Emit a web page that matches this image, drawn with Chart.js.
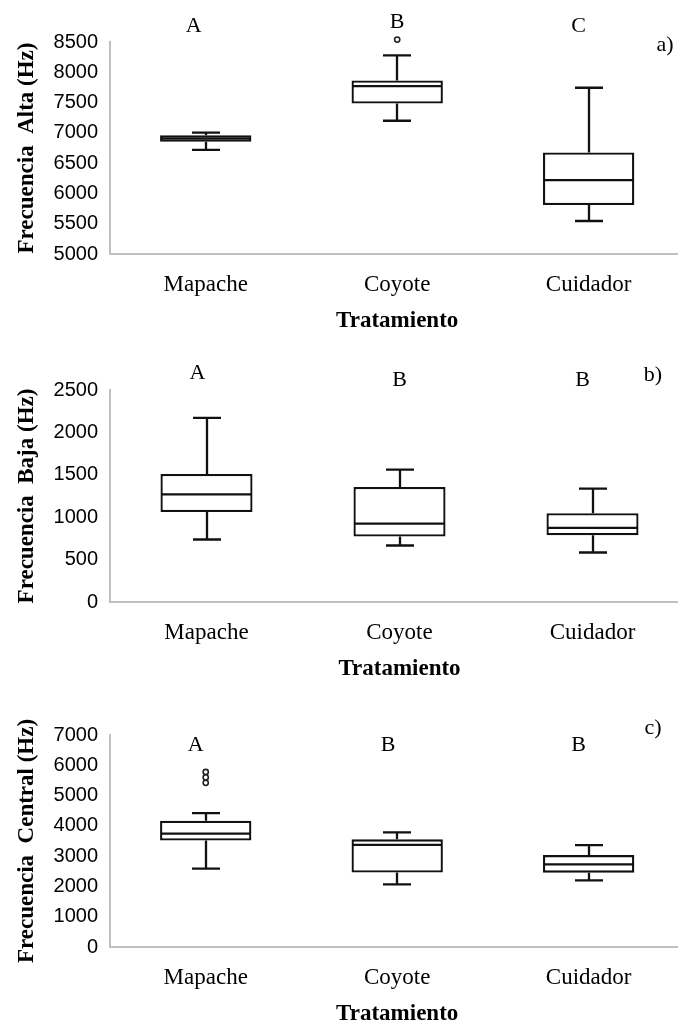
<!DOCTYPE html>
<html>
<head>
<meta charset="utf-8">
<script src="https://cdn.jsdelivr.net/npm/chart.js@4.4.0/dist/chart.umd.min.js"></script>
<style>
  html, body { margin: 0; padding: 0; background: #fff; }
  #wrap { position: relative; width: 678px; height: 1027px; overflow: hidden; background: #fff; }
  #wrap canvas { position: absolute; left: 0; }
</style>
</head>
<body>
<div id="wrap">
  <canvas id="chart-alta" width="690" height="342" style="top:0px"></canvas>
  <canvas id="chart-baja" width="690" height="342" style="top:348px"></canvas>
  <canvas id="chart-central" width="690" height="342" style="top:693px"></canvas>
</div>
<script>
// Categories shared by the three panels
const categories = ['Mapache', 'Coyote', 'Cuidador'];

// a) Frecuencia alta (Hz)
const altaMin = [6720, 7200, 5545];
const altaQ1 = [6855, 7485, 5810];
const altaMedian = [6910, 7770, 6220];
const altaQ3 = [6960, 7865, 6675];
const altaMax = [7005, 8280, 7745];
const altaOutlierCats = ['Coyote'];
const altaOutlierValues = [8540];
const altaTicks = [5000, 5500, 6000, 6500, 7000, 7500, 8000, 8500];
const altaLetters = ['A', 'B', 'C'];

// b) Frecuencia baja (Hz)
const bajaMin = [737, 666, 584];
const bajaQ1 = [1062, 772, 788];
const bajaMedian = [1270, 925, 874];
const bajaQ3 = [1509, 1356, 1046];
const bajaMax = [2171, 1560, 1336];
const bajaOutlierCats = [];
const bajaOutlierValues = [];
const bajaTicks = [0, 500, 1000, 1500, 2000, 2500];
const bajaLetters = ['A', 'B', 'B'];

// c) Frecuencia central (Hz)
const centralMin = [2590, 2067, 2202];
const centralQ1 = [3515, 2461, 2455];
const centralMedian = [3745, 3369, 2730];
const centralQ3 = [4170, 3555, 3034];
const centralMax = [4420, 3784, 3362];
const centralOutlierCats = ['Mapache', 'Mapache', 'Mapache'];
const centralOutlierValues = [5420, 5600, 5780];
const centralTicks = [0, 1000, 2000, 3000, 4000, 5000, 6000, 7000];
const centralLetters = ['A', 'B', 'B'];

const SERIF = '"Liberation Serif", "Times New Roman", serif';
const SANS = '"Liberation Sans", Arial, sans-serif';
const LINE = 2.3;

/**
 * Whiskers, caps and median line, drawn from the box dataset's bars
 */
const boxWhiskerPlugin = {
  id: 'boxWhisker',
  afterDatasetsDraw(chart, args, opts) {
    const { ctx } = chart;
    const y = chart.scales.y;
    const meta = chart.getDatasetMeta(0);
    ctx.save();
    ctx.strokeStyle = '#111';
    ctx.lineWidth = LINE;
    meta.data.forEach((bar, i) => {
      const x = Math.round(bar.x);
      const half = bar.width / 2;
      const cap = 14;
      const pTop = y.getPixelForValue(opts.q3[i]);
      const pBot = y.getPixelForValue(opts.q1[i]);
      const pMax = y.getPixelForValue(opts.max[i]);
      const pMin = y.getPixelForValue(opts.min[i]);
      const pMed = y.getPixelForValue(opts.median[i]);
      ctx.beginPath();
      // upper whisker
      ctx.moveTo(x, pTop);
      ctx.lineTo(x, pMax);
      ctx.moveTo(x - cap, pMax);
      ctx.lineTo(x + cap, pMax);
      // lower whisker
      ctx.moveTo(x, pBot);
      ctx.lineTo(x, pMin);
      ctx.moveTo(x - cap, pMin);
      ctx.lineTo(x + cap, pMin);
      // median
      ctx.moveTo(x - half + 1, pMed);
      ctx.lineTo(x + half - 1, pMed);
      ctx.stroke();
    });
    ctx.restore();
  }
};

/**
 * Significance letters and panel tag
 */
const panelTextPlugin = {
  id: 'panelText',
  afterDraw(chart, args, opts) {
    const { ctx } = chart;
    const x = chart.scales.x;
    ctx.save();
    ctx.fillStyle = '#000';
    ctx.font = '22px ' + SERIF;
    ctx.textAlign = 'center';
    ctx.textBaseline = 'middle';
    opts.letters.forEach((letter, i) => {
      ctx.fillText(letter, x.getPixelForValue(i) + opts.letterDx[i], opts.letterY[i]);
    });
    ctx.fillText(opts.tag, opts.tagX, opts.tagY);
    ctx.restore();
  }
};

function buildBoxChart(canvasId, cfg) {
  const ctx = document.getElementById(canvasId);
  const boxes = categories.map((c, i) => [cfg.q1[i], cfg.q3[i]]);
  const outliers = cfg.outlierCats.map((c, i) => ({ x: c, y: cfg.outlierValues[i] }));
  const step = cfg.ticks[1] - cfg.ticks[0];

  return new Chart(ctx, {
    data: {
      labels: categories,
      datasets: [
        {
          type: 'bar',
          data: boxes,
          backgroundColor: '#fff',
          borderColor: '#111',
          borderWidth: LINE,
          borderSkipped: false,
          categoryPercentage: 1,
          barPercentage: 0.477
        },
        {
          type: 'scatter',
          data: outliers,
          pointStyle: 'circle',
          pointRadius: 2.6,
          backgroundColor: '#fff',
          borderColor: '#222',
          borderWidth: 1.6,
          clip: false
        }
      ]
    },
    options: {
      responsive: false,
      animation: false,
      devicePixelRatio: 1,
      layout: { padding: { top: 42, right: 1, bottom: 0, left: 0 } },
      plugins: {
        legend: { display: false },
        tooltip: { enabled: false },
        boxWhisker: { min: cfg.min, q1: cfg.q1, median: cfg.median, q3: cfg.q3, max: cfg.max },
        panelText: {
          letters: cfg.letters, letterDx: cfg.letterDx, letterY: cfg.letterY,
          tag: cfg.tag, tagX: cfg.tagX, tagY: cfg.tagY
        }
      },
      scales: {
        x: {
          type: 'category',
          offset: true,
          grid: { display: false, drawTicks: false },
          border: { display: true, color: '#c0c0c0', width: 2 },
          ticks: { font: { family: SERIF, size: 23 }, color: '#000', padding: 17 },
          title: {
            display: true,
            text: 'Tratamiento',
            color: '#000',
            font: { family: SERIF, size: 23, weight: 'bold' },
            padding: { top: 0, bottom: 7 }
          },
          afterFit: (scale) => { scale.height = 88; }
        },
        y: {
          min: cfg.ticks[0],
          max: cfg.ticks[cfg.ticks.length - 1],
          grid: { display: false, drawTicks: false },
          border: { display: true, color: '#c0c0c0', width: 2 },
          ticks: {
            stepSize: step,
            font: { family: SANS, size: 20 },
            color: '#000',
            padding: 12,
            callback: (value) => String(value)
          },
          afterBuildTicks: (scale) => { scale.ticks = cfg.ticks.map(v => ({ value: v })); },
          title: {
            display: true,
            text: cfg.yTitle,
            color: '#000',
            font: { family: SERIF, size: 23, weight: 'bold' },
            padding: { top: 13, bottom: 0 }
          },
          afterFit: (scale) => { scale.width = 110; }
        }
      }
    },
    plugins: [boxWhiskerPlugin, panelTextPlugin]
  });
}

buildBoxChart('chart-alta', {
  min: altaMin, q1: altaQ1, median: altaMedian, q3: altaQ3, max: altaMax,
  outlierCats: altaOutlierCats, outlierValues: altaOutlierValues,
  ticks: altaTicks, yTitle: 'Frecuencia  Alta (Hz)',
  letters: altaLetters, letterDx: [-12, 0, -10], letterY: [26, 22, 26],
  tag: 'a)', tagX: 665, tagY: 45
});

buildBoxChart('chart-baja', {
  min: bajaMin, q1: bajaQ1, median: bajaMedian, q3: bajaQ3, max: bajaMax,
  outlierCats: bajaOutlierCats, outlierValues: bajaOutlierValues,
  ticks: bajaTicks, yTitle: 'Frecuencia  Baja (Hz)',
  letters: bajaLetters, letterDx: [-9, 0, -10], letterY: [25, 32, 32],
  tag: 'b)', tagX: 653, tagY: 27
});

buildBoxChart('chart-central', {
  min: centralMin, q1: centralQ1, median: centralMedian, q3: centralQ3, max: centralMax,
  outlierCats: centralOutlierCats, outlierValues: centralOutlierValues,
  ticks: centralTicks, yTitle: 'Frecuencia  Central (Hz)',
  letters: centralLetters, letterDx: [-10, -9, -10], letterY: [52, 52, 52],
  tag: 'c)', tagX: 653, tagY: 35
});
</script>
</body>
</html>
